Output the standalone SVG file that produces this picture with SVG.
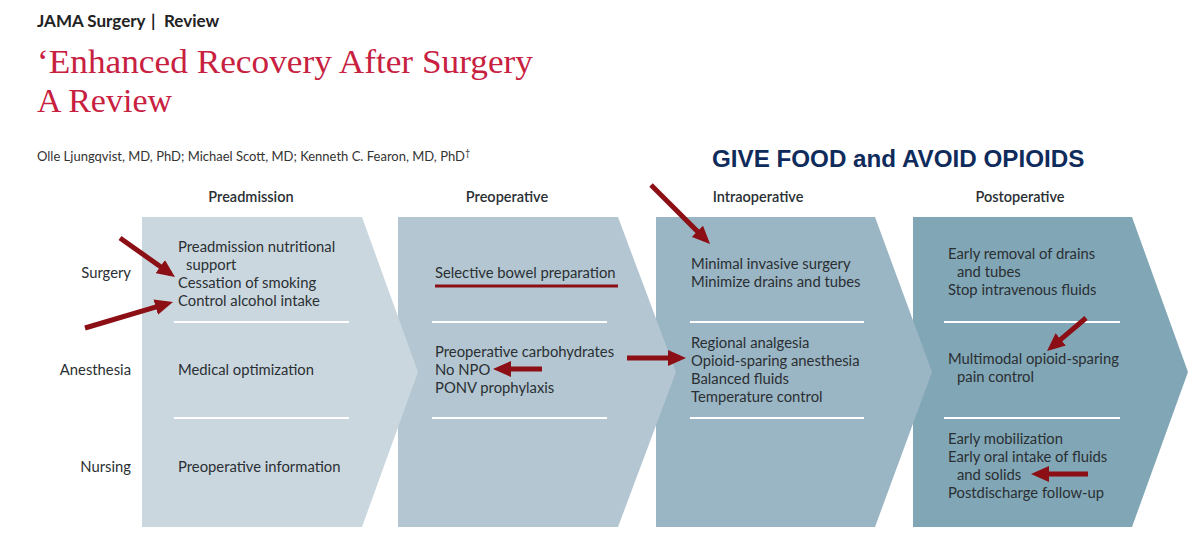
<svg xmlns="http://www.w3.org/2000/svg" width="1200" height="550" viewBox="0 0 1200 550">
<defs>
<marker id="ah" markerUnits="userSpaceOnUse" markerWidth="18" markerHeight="16" viewBox="0 0 18 16" refX="12" refY="8" orient="auto">
<path d="M0,0 L18,8 L0,16 z" fill="#8b0f14"/>
</marker>
<style>
.t{font-family:Lato,"Open Sans",sans-serif;font-size:14.8px;fill:#2a2f33}
.h{font-family:Lato,"Open Sans",sans-serif;font-size:14.5px;font-weight:600;fill:#2a2f33;text-anchor:middle}
.r{font-family:Lato,"Open Sans",sans-serif;font-size:14.8px;fill:#2a2f33;text-anchor:end}
.div{stroke:#ffffff;stroke-width:2}
.arr{stroke:#8b0f14;stroke-width:5;fill:none;marker-end:url(#ah)}
</style>
</defs>
<rect width="1200" height="550" fill="#ffffff"/>
<g id="header">
<text y="27" font-family="Lato,'Open Sans',sans-serif" font-size="17" font-weight="bold" fill="#222"><tspan x="37">JAMA Surgery</tspan><tspan x="151">|</tspan><tspan x="164">Review</tspan></text>
<text x="37" y="73" font-family="'Liberation Serif',serif" font-size="34" fill="#c8203f" textLength="496" lengthAdjust="spacingAndGlyphs">‘Enhanced Recovery After Surgery</text>
<text x="37" y="112" font-family="'Liberation Serif',serif" font-size="34" fill="#c8203f">A Review</text>
<text x="37" y="161" font-family="Lato,'Open Sans',sans-serif" font-size="13" fill="#333">Olle Ljungqvist, MD, PhD; Michael Scott, MD; Kenneth C. Fearon, MD, PhD<tspan font-size="9" dy="-5">†</tspan></text>
<text x="712" y="167" font-family="'Liberation Sans',Arial,sans-serif" font-size="24.2" font-weight="bold" fill="#0f2b5b">GIVE FOOD and AVOID OPIOIDS</text>
</g>
<g id="row-labels">
<text class="r" x="131" y="278">Surgery</text>
<text class="r" x="131" y="375">Anesthesia</text>
<text class="r" x="131" y="472">Nursing</text>
</g>
<g id="postoperative">
<polygon points="913,217 1132,217 1188,372 1132,527 913,527" fill="#81a6b5"/>
<text class="h" x="1020" y="202">Postoperative</text>
<line class="div" x1="944" y1="322" x2="1120" y2="322"/>
<line class="div" x1="944" y1="418" x2="1120" y2="418"/>
<text class="t" x="948" y="259">Early removal of drains</text>
<text class="t" x="957" y="277">and tubes</text>
<text class="t" x="948" y="295">Stop intravenous fluids</text>
<text class="t" x="948" y="364">Multimodal opioid-sparing</text>
<text class="t" x="957" y="382">pain control</text>
<text class="t" x="948" y="444">Early mobilization</text>
<text class="t" x="948" y="462">Early oral intake of fluids</text>
<text class="t" x="957" y="480">and solids</text>
<text class="t" x="948" y="498">Postdischarge follow-up</text>
</g>
<g id="intraoperative">
<polygon points="656,217 875,217 932,372 875,527 656,527" fill="#9ab5c3"/>
<text class="h" x="758" y="202">Intraoperative</text>
<line class="div" x1="690" y1="322" x2="864" y2="322"/>
<line class="div" x1="690" y1="418" x2="864" y2="418"/>
<text class="t" x="691" y="269">Minimal invasive surgery</text>
<text class="t" x="691" y="287">Minimize drains and tubes</text>
<text class="t" x="691" y="348">Regional analgesia</text>
<text class="t" x="691" y="366">Opioid-sparing anesthesia</text>
<text class="t" x="691" y="384">Balanced fluids</text>
<text class="t" x="691" y="402">Temperature control</text>
</g>
<g id="preoperative">
<polygon points="398,217 618,217 676,372 618,527 398,527" fill="#b3c6d1"/>
<text class="h" x="507" y="202">Preoperative</text>
<line class="div" x1="432" y1="322" x2="607" y2="322"/>
<line class="div" x1="432" y1="418" x2="607" y2="418"/>
<text class="t" x="435" y="278">Selective bowel preparation</text>
<line x1="435" y1="286" x2="618" y2="286" stroke="#8b0f14" stroke-width="3"/>
<text class="t" x="435" y="357">Preoperative carbohydrates</text>
<text class="t" x="435" y="375">No NPO</text>
<text class="t" x="435" y="393">PONV prophylaxis</text>
</g>
<g id="preadmission">
<polygon points="142,217 362,217 418,372 362,527 142,527" fill="#cad7df"/>
<text class="h" x="251" y="202">Preadmission</text>
<line class="div" x1="174" y1="322" x2="349" y2="322"/>
<line class="div" x1="174" y1="418" x2="349" y2="418"/>
<text class="t" x="178" y="252">Preadmission nutritional</text>
<text class="t" x="186" y="270">support</text>
<text class="t" x="178" y="288">Cessation of smoking</text>
<text class="t" x="178" y="306">Control alcohol intake</text>
<text class="t" x="178" y="375">Medical optimization</text>
<text class="t" x="178" y="472">Preoperative information</text>
</g>
<g id="connectors">
<line class="arr" x1="120" y1="238" x2="170.1" y2="273.5"/>
<line class="arr" x1="85" y1="328" x2="167.2" y2="303.7"/>
<line class="arr" x1="542" y1="369" x2="499" y2="369"/>
<line class="arr" x1="627" y1="358" x2="680" y2="358"/>
<line class="arr" x1="651" y1="185" x2="705.8" y2="239.8"/>
<line class="arr" x1="1086" y1="318" x2="1051.6" y2="347.1"/>
<line class="arr" x1="1088" y1="474" x2="1037" y2="474"/>
</g>
</svg>
